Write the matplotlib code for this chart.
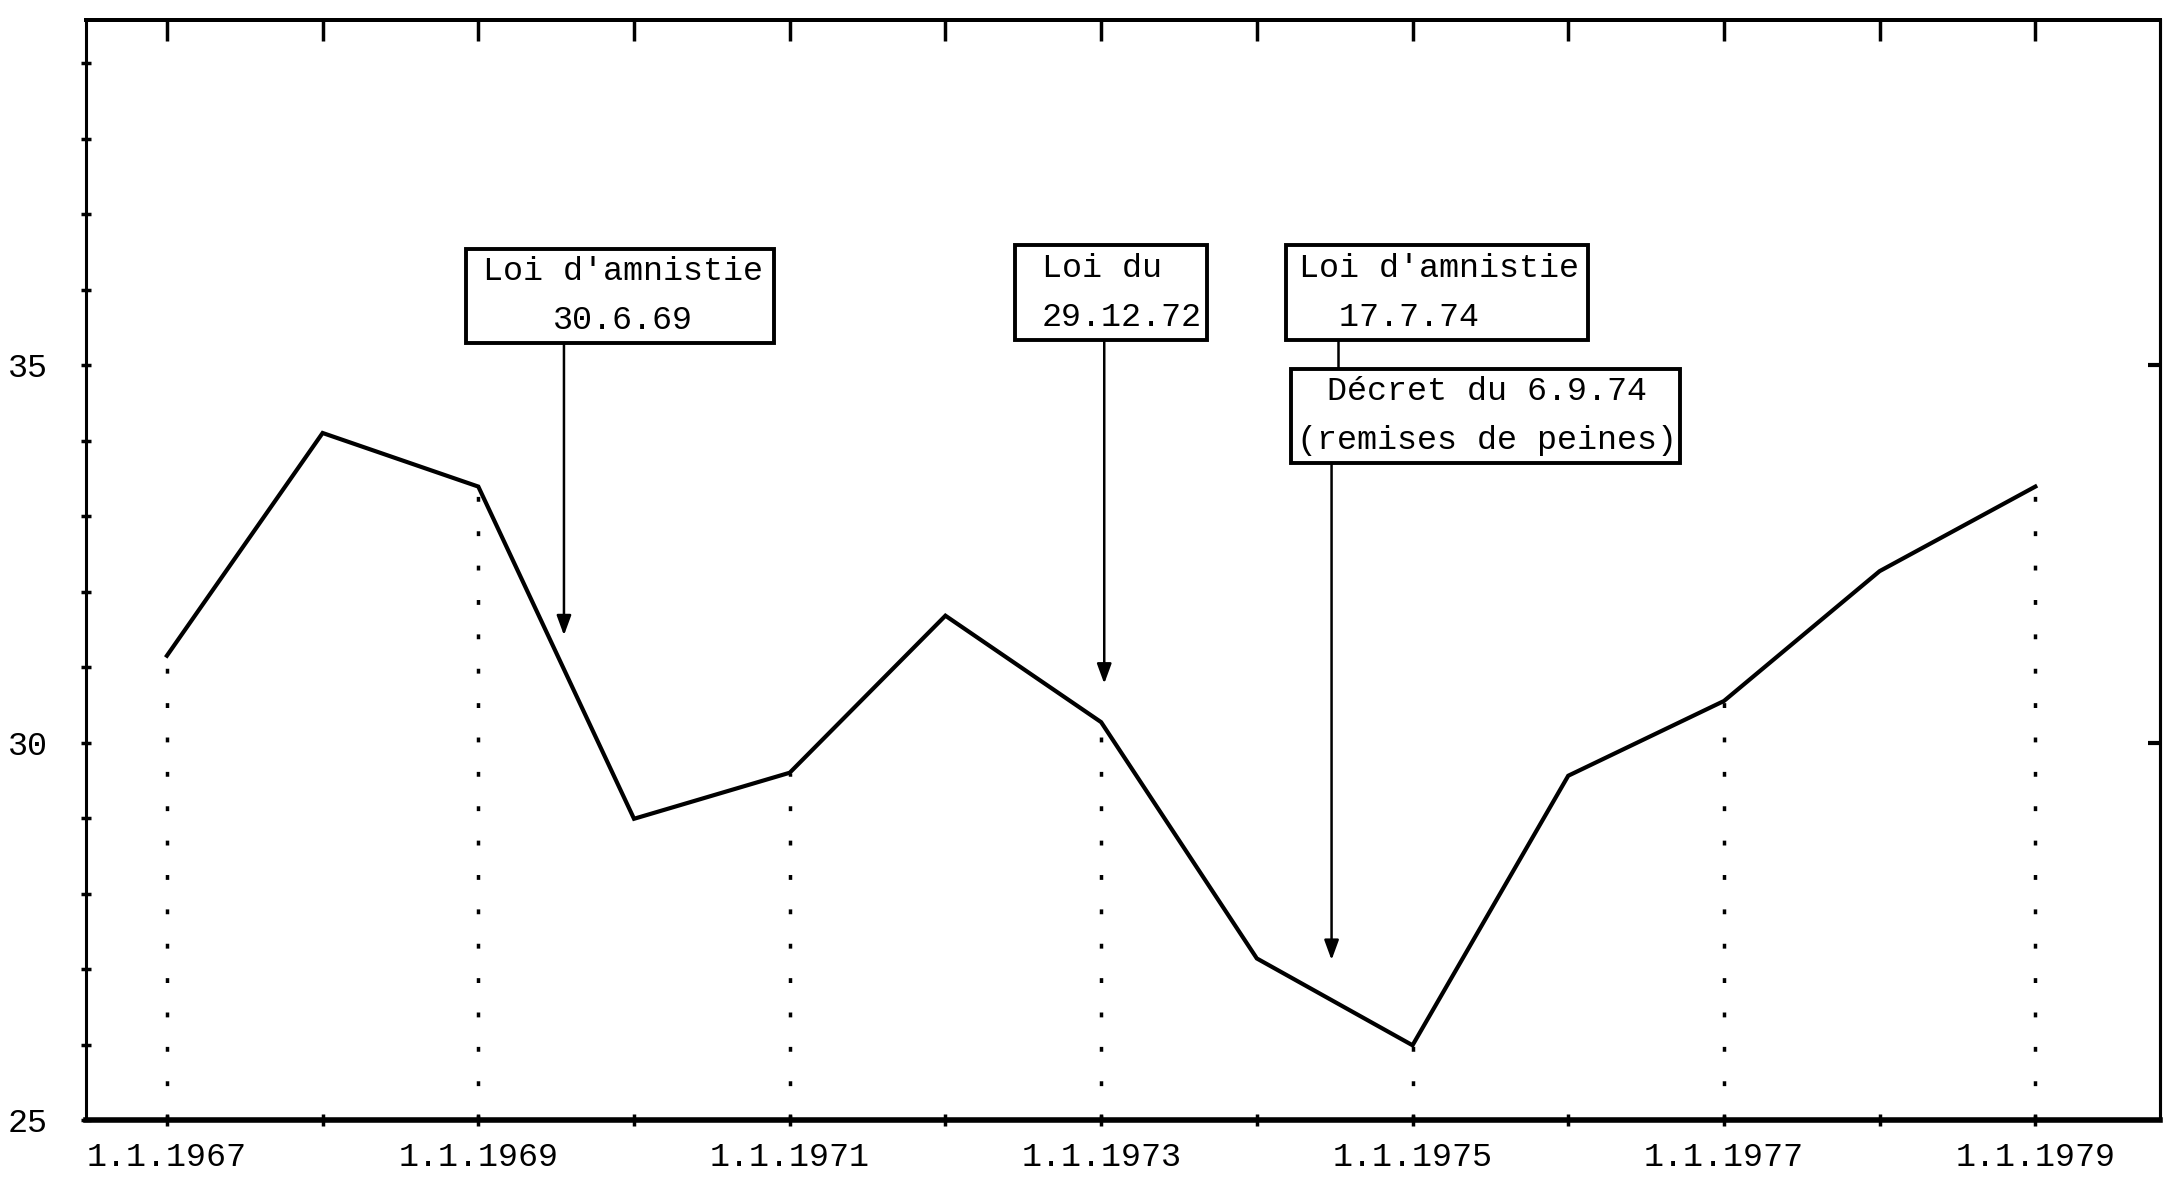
import matplotlib
matplotlib.use("Agg")
import matplotlib.pyplot as plt
from matplotlib.patches import Rectangle

# values (one point per 1st January)
years = [1967, 1968, 1969, 1970, 1971, 1972, 1973, 1974, 1975, 1976, 1977, 1978, 1979]
values = [31.15, 34.10, 33.39, 28.99, 29.60, 31.68, 30.27, 27.14, 25.99, 29.56, 30.55, 32.27, 33.39]

label_years = [1967, 1969, 1971, 1973, 1975, 1977, 1979]
xtick_labels = ["1.1.1967", "1.1.1969", "1.1.1971", "1.1.1973", "1.1.1975", "1.1.1977", "1.1.1979"]
ytick_major = [25, 30, 35]
ytick_labels = ["25", "30", "35"]
ytick_minor = list(range(25, 40))

# event boxes: text, text x, alignment, box (x0, x1, y0, y1)
events = [
    ("Loi d'amnistie\n30.6.69", 1969.93, "center", (1968.92, 1970.90, 35.29, 36.54)),
    ("Loi du\n29.12.72", 1972.62, "left", (1972.45, 1973.68, 35.33, 36.59)),
    ("Loi d'amnistie\n  17.7.74", 1974.27, "left", (1974.19, 1976.13, 35.33, 36.59)),
    ("Décret du 6.9.74\n(remises de peines)", 1975.48, "center", (1974.22, 1976.72, 33.70, 34.95)),
]
# arrows: x, start y, tip y
arrows = [(1969.55, 35.29, 31.42), (1973.02, 35.33, 30.78), (1974.48, 33.70, 27.12)]
connector = (1974.52, 35.33, 34.95)

mono = ["Liberation Mono", "DejaVu Sans Mono"]

fig = plt.figure(figsize=(21.76, 11.91), dpi=100)
ax = fig.add_axes([0.0395, 0.0596, 0.9531, 0.9236])

ax.plot(years, values, color="k", lw=3.0, solid_joinstyle="miter", zorder=4)

# dotted drop lines at the labelled years
for y, v in zip(years, values):
    if y in label_years:
        ax.plot([y, y], [25, v], color="k", lw=2.5, linestyle=(0, (1.4, 8.5)), zorder=2)

ax.set_xlim(1966.48, 1979.8)
ax.set_ylim(25, 39.57)

ax.set_xticks(label_years)
ax.set_xticklabels(xtick_labels, family=mono, fontsize=24)
ax.set_xticks(years, minor=True)
ax.set_yticks(ytick_major)
ax.set_yticklabels(ytick_labels, family=mono, fontsize=24)
ax.set_yticks(ytick_minor, minor=True)
ax.tick_params(axis="x", which="both", direction="inout", length=9, width=2.5, pad=11)
ax.tick_params(axis="y", which="both", direction="inout", length=7, width=2.5, pad=24)

top = ax.secondary_xaxis("top")
top.set_xticks(years)
top.set_xticklabels([])
top.tick_params(direction="in", length=15, width=2.5)
top.spines["top"].set_linewidth(2.8)

right = ax.secondary_yaxis("right")
right.set_yticks([30, 35])
right.set_yticklabels([])
right.tick_params(direction="in", length=9, width=3)
right.spines["right"].set_linewidth(2.2)

ax.spines["bottom"].set_linewidth(4)
ax.spines["left"].set_linewidth(2.2)
ax.spines["top"].set_linewidth(2.8)
ax.spines["right"].set_linewidth(2.2)

for text, tx, ha, (x0, x1, y0, y1) in events:
    ax.add_patch(Rectangle((x0, y0), x1 - x0, y1 - y0, facecolor="white",
                           edgecolor="k", lw=2.8, zorder=5))
    ax.text(tx, (y0 + y1) / 2, text, ha=ha, va="center", multialignment=ha,
            family=mono, fontsize=24, linespacing=1.75, zorder=6)

for x, y_start, y_tip in arrows:
    ax.annotate("", xy=(x, y_tip), xytext=(x, y_start),
                arrowprops=dict(arrowstyle="-|>,head_length=0.6,head_width=0.22",
                                mutation_scale=20, color="k", lw=1.8,
                                shrinkA=0, shrinkB=0), zorder=3)

cx, cy0, cy1 = connector
ax.plot([cx, cx], [cy0, cy1], color="k", lw=1.8, zorder=3)

fig.savefig("out.png", dpi=100)
